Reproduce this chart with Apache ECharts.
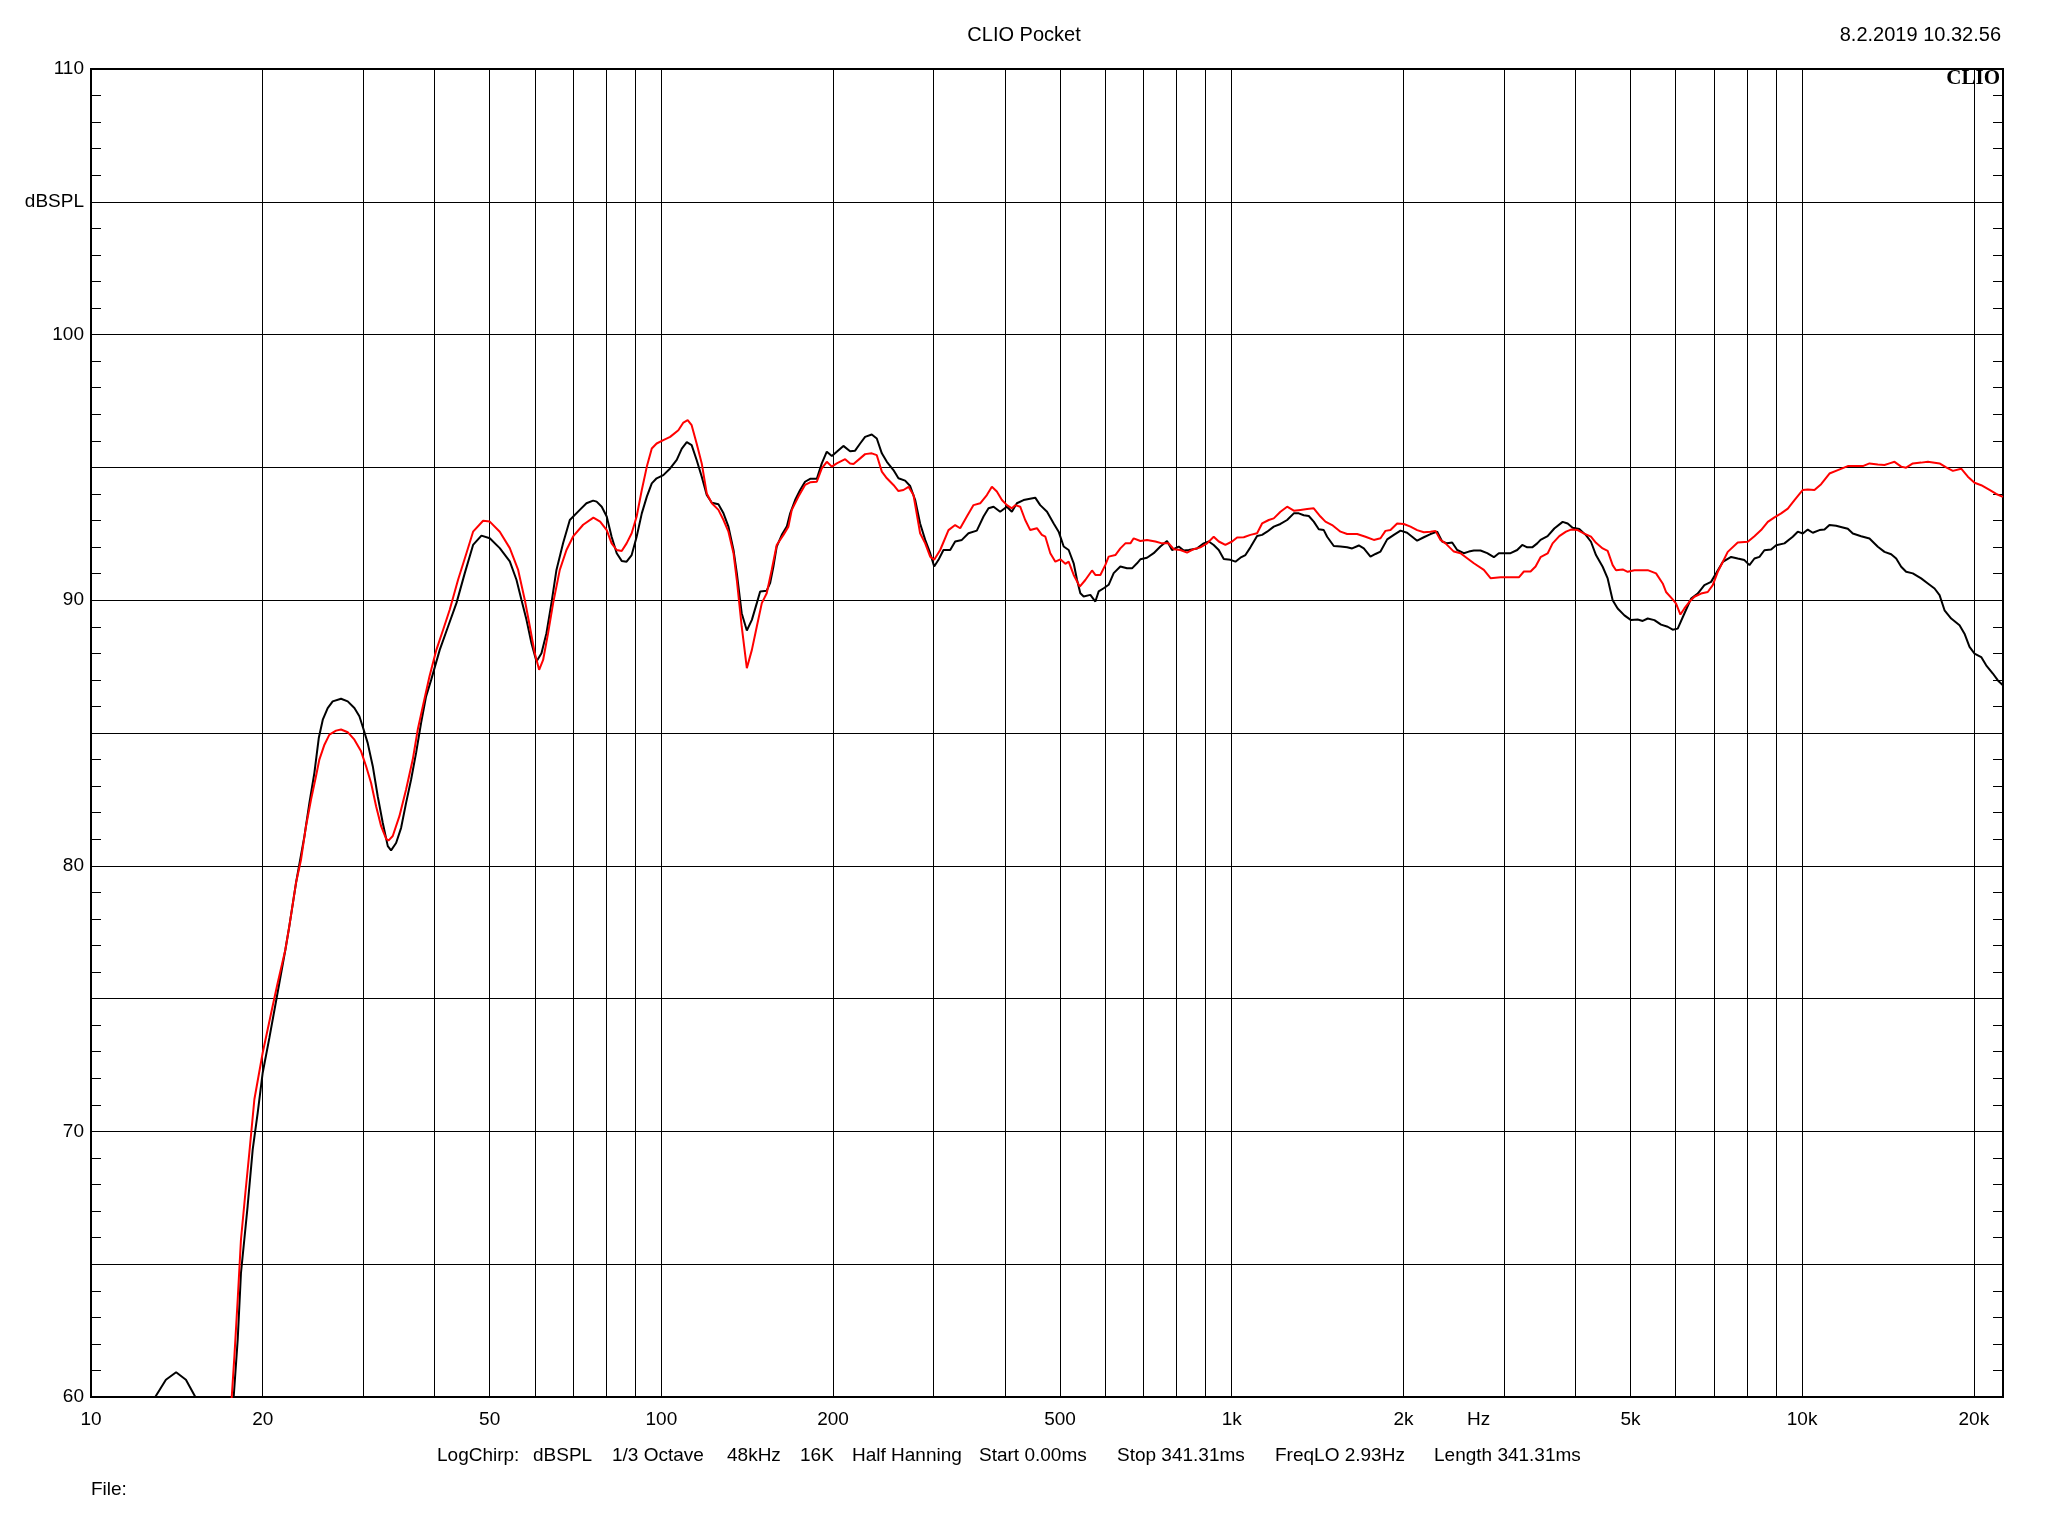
<!DOCTYPE html>
<html>
<head>
<meta charset="utf-8">
<script src="https://cdn.jsdelivr.net/npm/echarts@6/dist/echarts.min.js"></script>
<style>
html,body{margin:0;padding:0;background:#fff;}
#chart{width:2048px;height:1536px;}
</style>
</head>
<body>
<div id="chart"></div>
<script>
// ---- data (frequency in Hz, level in dBSPL) ----
const blackCurve = [
[12.5,58.8],[12.96,60.0],[13.53,60.65],[14.1,60.93],[14.67,60.65],[15.24,60.0],[15.8,58.3],[17.4,57.5],
[17.79,60],[18.08,62.16],[18.32,64.67],[18.57,65.93],[18.82,67.19],[19.21,69.32],[19.6,70.7],[20,72.21],[20.55,73.53],[21.11,74.91],
[21.92,76.85],[22.27,77.73],[22.88,79.36],[23.67,81.12],[24.15,82.37],[24.64,83.5],[25.08,84.81],[25.49,85.5],[26.0,85.94],[26.53,86.19],
[27.44,86.29],[28.19,86.19],[28.96,85.94],[29.55,85.63],[30,85.19],[30.56,84.62],[31.19,83.75],[31.82,82.62],[32.47,81.62],[33.14,80.74],
[33.58,80.58],[34.27,80.86],[34.97,81.43],[35.68,82.37],[36.41,83.25],[37.15,84.25],[37.91,85.38],[38.68,86.38],[39.48,87.0],[40.87,88.13],
[42.27,89.01],[43.72,89.89],[45.22,91.02],[46.76,92.08],[48.36,92.43],[50.02,92.33],[52.08,91.96],[54.23,91.46],[55.71,90.77],[56.85,90.01],
[58.01,89.26],[59.19,88.38],[60.4,87.69],[61.63,88.0],[62.88,88.76],[64.16,89.89],[65.47,91.14],[67.26,92.15],[69.1,93.02],[71.94,93.4],
[73.9,93.65],[75.92,93.75],[77.0,93.71],[78.6,93.52],[80.2,93.15],[81.8,92.39],[83.5,91.77],[85.2,91.48],[86.9,91.45],[88.7,91.7],
[90.5,92.39],[92.4,93.27],[94.3,93.9],[96.2,94.4],[98.1,94.59],[100.8,94.71],[103.6,94.96],[106.4,95.28],[108.6,95.71],[110.8,95.95],
[113.0,95.84],[115.3,95.28],[117.7,94.65],[120.1,93.96],[122.6,93.67],[125.9,93.61],[128.5,93.27],[131.1,92.77],[133.8,91.89],[135.6,91.02],
[138.3,89.51],[141.2,88.86],[144.1,89.26],[147.0,89.89],[149.0,90.33],[153.0,90.36],[155.1,90.64],[157.2,91.27],[159.3,92.02],[162.6,92.46],
[165.9,92.77],[168.2,93.27],[171.6,93.77],[175.1,94.15],[178.6,94.46],[182.3,94.57],[187.3,94.57],[191.1,95.15],[195.0,95.59],[199.0,95.43],
[203.0,95.59],[208.5,95.81],[214.2,95.61],[218.6,95.63],[223.1,95.9],[227.6,96.15],[233.8,96.24],[238.6,96.09],[243.5,95.53],[248.5,95.21],
[255.2,94.9],[260.4,94.59],[267.5,94.5],[273.0,94.3],[278.6,93.77],[284.2,92.89],[290.1,92.27],[296.0,91.77],[300.8,91.27],[306.1,91.52],
[312.3,91.89],[320.9,91.89],[327.4,92.21],[336.4,92.27],[345.5,92.52],[357.3,92.62],[367.1,93.15],[374.6,93.46],[382.3,93.52],[392.6,93.33],
[403.4,93.52],[411.6,93.33],[420.0,93.65],[431.5,93.77],[452.3,93.86],[461.5,93.58],[474.4,93.33],[487.3,92.89],[497.2,92.58],[507.4,92.02],
[517.7,91.89],[528.3,91.39],[535.5,90.76],[542.7,90.26],[550,90.14],[565.1,90.2],[576.6,89.95],[584.4,90.33],[596.3,90.45],[608.4,90.58],
[620.9,91.02],[637.8,91.27],[655.2,91.2],[668.6,91.2],[682.2,91.39],[691.5,91.54],[710.3,91.6],[729.7,91.77],[749.6,92.02],[770.1,92.23],
[785.8,91.89],[807.3,92.02],[823.8,91.87],[840.7,91.89],[869.4,91.95],[893.1,92.14],[911.4,92.21],[929.8,92.08],[948.9,91.89],[968.3,91.55],
[994.7,91.52],[1014.9,91.45],[1035.6,91.6],[1056.8,91.7],[1078.2,91.99],[1107.7,92.42],[1130.3,92.46],[1153.5,92.58],[1184.9,92.77],[1217.2,92.87],
[1250.5,93.02],[1284.6,93.27],[1310.7,93.27],[1337.5,93.2],[1364.9,93.17],[1392.5,92.96],[1421,92.67],[1450,92.64],[1469.7,92.39],[1509.7,92.04],
[1551.1,92.02],[1593.4,91.99],[1625.9,91.95],[1670.4,92.06],[1704.2,91.95],[1750.7,91.64],[1786.5,91.74],[1823,91.83],[1872.8,92.29],[1924,92.46],
[1976.5,92.62],[2029.7,92.54],[2071.4,92.39],[2113.8,92.24],[2171.5,92.37],[2230.8,92.49],[2291.8,92.58],[2338,92.21],[2385.9,92.14],[2434.7,92.17],
[2484.5,91.89],[2551.8,91.77],[2604,91.83],[2657.4,91.87],[2729.8,91.87],[2804.7,91.77],[2881.2,91.62],[2939.7,91.77],[2999.8,91.77],[3081.9,91.77],
[3165.8,91.89],[3230.6,92.08],[3296.1,91.99],[3363.6,91.99],[3432.3,92.14],[3478.5,92.27],[3579,92.41],[3677,92.7],[3803,92.95],[3881,92.89],
[3959,92.73],[4067,92.68],[4178,92.45],[4264,92.2],[4351,91.7],[4470,91.26],[4561,90.82],[4654,90.0],[4749,89.69],[4880,89.43],
[5012,89.25],[5149,89.27],[5254,89.22],[5362,89.31],[5508,89.25],[5658,89.08],[5812,89.0],[5930,88.89],[6052,88.93],[6217,89.5],
[6387,90.06],[6561,90.25],[6740,90.57],[6924,90.69],[7066,91.01],[7258,91.44],[7508,91.63],[7711,91.57],[7922,91.51],[8084,91.32],
[8249,91.57],[8418,91.63],[8587,91.88],[8823,91.91],[9004,92.07],[9311,92.14],[9629,92.39],[9826,92.58],[10028,92.51],[10231,92.66],
[10440,92.54],[10725,92.64],[10945,92.66],[11166,92.83],[11471,92.8],[11784,92.74],[12025,92.69],[12271,92.51],[12690,92.41],[13125,92.32],
[13575,92.01],[13945,91.82],[14325,91.73],[14619,91.57],[14917,91.26],[15219,91.07],[15634,91.01],[16169,90.82],[16615,90.63],[17068,90.44],
[17417,90.19],[17770,89.62],[18255,89.31],[18880,89.06],[19262,88.74],[19656,88.24],[20058,87.99],[20606,87.86],[21023,87.55],[21598,87.24],
[22040,86.98],[22491,86.8]
];
const redCurve = [
[17.2,57.5],[17.65,60],[17.84,61.53],[18.08,63.67],[18.32,65.93],[18.65,67.69],[18.95,69.2],[19.34,71.21],[20,72.96],[20.82,74.72],[21.25,75.6],
[21.92,76.85],[22.27,77.73],[22.88,79.36],[23.35,80.24],[23.82,81.49],[24.31,82.49],[24.8,83.37],[25.14,84.0],[25.66,84.56],[26.18,84.94],
[26.89,85.09],[27.44,85.13],[28.19,85.03],[28.96,84.75],[29.75,84.31],[30.36,83.75],[30.98,83.12],[31.61,82.24],[32.26,81.49],[32.91,81.02],
[33.23,80.95],[33.81,81.12],[34.73,81.87],[35.68,82.87],[36.65,84.0],[37.4,85.13],[38.17,86.0],[39.21,87.13],[40.32,88.13],[41.42,88.88],
[42.55,89.64],[44.01,90.77],[45.52,91.77],[46.76,92.58],[48.69,92.99],[50.02,92.96],[52.08,92.58],[54.23,91.96],[56.09,91.14],[57.62,90.01],
[58.8,89.01],[59.99,88.0],[61.05,87.38],[62.04,87.75],[63.3,88.76],[64.6,89.89],[66.36,91.14],[68.17,91.89],[70.03,92.4],[72.92,92.84],
[76.0,93.11],[78.1,92.96],[80.2,92.64],[81.8,92.14],[83.5,91.89],[85.2,91.85],[86.9,92.14],[88.7,92.52],[90.5,93.15],[92.4,94.15],
[94.3,95.03],[96.2,95.71],[98.1,95.9],[100.8,96.03],[103.6,96.15],[107.1,96.4],[109.3,96.69],[111.2,96.78],[113.0,96.59],[115.3,95.9],
[117.7,95.15],[120.1,94.02],[122.6,93.65],[125.9,93.4],[128.5,93.02],[131.1,92.58],[133.8,91.77],[135.6,90.76],[138.3,89.01],[141.2,87.44],
[144.1,88.13],[147.0,89.01],[150.0,89.89],[153.0,90.26],[156.1,91.14],[159.3,92.08],[163.7,92.46],[167.0,92.77],[169.3,93.4],[173.9,93.9],
[178.6,94.34],[182.3,94.44],[187.3,94.46],[191.1,94.96],[195.0,95.21],[199.0,95.03],[203.0,95.15],[210.0,95.31],[214.2,95.15],[217.2,95.13],
[223.1,95.34],[227.6,95.5],[233.8,95.53],[238.6,95.46],[243.5,94.84],[248.5,94.59],[255.2,94.34],[260.4,94.11],[265.7,94.15],[271.2,94.27],
[276.7,93.96],[284.2,92.52],[290.1,92.14],[296.0,91.64],[300.8,91.52],[308.2,91.89],[318.7,92.64],[327.4,92.83],[334.1,92.71],[343.2,93.15],
[352.6,93.58],[362.2,93.65],[372.1,93.96],[379.7,94.27],[387.4,94.09],[395.4,93.77],[403.4,93.58],[411.6,93.46],[417.3,93.58],[425.7,93.52],
[434.4,93.02],[443.3,92.64],[455.4,92.71],[464.6,92.46],[471.2,92.39],[480.7,91.77],[490.6,91.45],[500.6,91.54],[510.8,91.37],[517.7,91.45],
[528.3,90.95],[541.4,90.51],[553.7,90.76],[568.9,91.12],[576.6,90.95],[588.4,90.95],[600.4,91.33],[608.4,91.64],[625.1,91.7],[637.8,91.95],
[650.8,92.14],[664.2,92.14],[673.1,92.33],[691.5,92.23],[710.3,92.27],[734.6,92.21],[754.8,92.14],[775.2,92.14],[791.2,91.92],[812.8,91.89],
[834.9,91.79],[857.5,91.92],[881,91.99],[905.2,92.14],[929.8,92.39],[948.9,92.21],[974.7,92.08],[1001.4,92.21],[1021.9,92.36],[1049.6,92.37],
[1078.2,92.46],[1107.7,92.52],[1130.3,92.89],[1161.2,93.02],[1184.9,93.08],[1217.2,93.33],[1250.5,93.52],[1284.6,93.37],[1319.6,93.4],[1355.7,93.43],
[1392.5,93.46],[1430.5,93.15],[1459.7,92.96],[1499.7,92.83],[1551.1,92.58],[1593.4,92.49],[1658.9,92.49],[1715.9,92.39],[1774.5,92.27],[1823,92.33],
[1859.9,92.61],[1898,92.64],[1949.8,92.89],[2002.8,92.87],[2057.6,92.77],[2113.8,92.64],[2171.5,92.56],[2230.8,92.58],[2276,92.61],[2322.7,92.27],
[2370,92.14],[2451.2,91.83],[2518,91.77],[2586.6,91.58],[2657.4,91.39],[2766.9,91.14],[2842.4,90.83],[2960,90.86],[3081.9,90.86],[3187.2,90.86],
[3252.2,91.08],[3341.2,91.08],[3409.4,91.27],[3478.5,91.62],[3579,91.76],[3652,92.14],[3752,92.41],[3855,92.58],[3933,92.66],[4040,92.64],
[4150,92.51],[4264,92.39],[4351,92.16],[4470,91.95],[4561,91.86],[4654,91.32],[4717,91.13],[4846,91.16],[4945,91.07],[5081,91.13],
[5220,91.13],[5362,91.13],[5545,91.01],[5696,90.63],[5773,90.31],[5930,90.03],[6012,89.87],[6118,89.46],[6217,89.69],[6344,89.94],
[6473,90.13],[6650,90.25],[6832,90.31],[6971,90.57],[7114,91.07],[7258,91.44],[7406,91.82],[7711,92.17],[8030,92.2],[8249,92.41],
[8474,92.64],[8706,92.95],[8943,93.12],[9188,93.27],[9439,93.45],[9696,93.77],[10028,94.15],[10231,94.17],[10510,94.15],[10797,94.37],
[11166,94.77],[11551,94.9],[12025,95.05],[12353,95.05],[12776,95.05],[13125,95.15],[13575,95.11],[13945,95.09],[14230,95.15],[14521,95.21],
[14917,95.03],[15219,94.99],[15634,95.15],[16169,95.18],[16615,95.21],[17417,95.15],[17889,95.0],[18378,94.87],[19006,94.95],[19525,94.65],
[20058,94.42],[20606,94.33],[21310,94.15],[21894,94.0],[22491,93.89]
];
const gridFreqs = [20,30,40,50,60,70,80,90,100,200,300,400,500,600,700,800,900,1000,2000,3000,4000,5000,6000,7000,8000,9000,10000,20000];
const freqTickLabels = [[10,'10'],[20,'20'],[50,'50'],[100,'100'],[200,'200'],[500,'500'],[1000,'1k'],[2000,'2k'],[2708,'Hz'],[5000,'5k'],[10000,'10k'],[20000,'20k']];
const xRange = [10, 22500];
const yRange = [60, 110];
const yStep = 5;
const yLabelValues = [60,70,80,90,100,110];
const yUnitLabel = [105, 'dBSPL'];
const titleText = 'CLIO Pocket';
const dateText = '8.2.2019 10.32.56';
const brandText = 'CLIO';
const infoItems = [['LogChirp:',437],['dBSPL',533],['1/3 Octave',612],['48kHz',727],['16K',800],['Half Hanning',852],['Start 0.00ms',979],['Stop 341.31ms',1117],['FreqLO 2.93Hz',1275],['Length 341.31ms',1434]];
const fileText = 'File:';

// ---- chart ----
const FONT = '"Liberation Sans", Arial, sans-serif';
const chart = echarts.init(document.getElementById('chart'), null, {renderer:'canvas'});

const labelMap = {};
freqTickLabels.forEach(([f, t]) => { labelMap[f] = t; });
const allFreqs = Array.from(new Set(gridFreqs.concat(freqTickLabels.map(d => d[0])))).sort((a, b) => a - b);
const markData = allFreqs.map(f => {
  const item = {xAxis: f};
  if (labelMap[f] !== undefined) {
    item.label = {show: true, formatter: labelMap[f]};
  } else {
    item.label = {show: false};
  }
  if (gridFreqs.indexOf(f) < 0) {
    item.lineStyle = {color: 'rgba(0,0,0,0)', width: 1};
  }
  return item;
});

const yAxisCommon = {
  type: 'value', min: yRange[0], max: yRange[1], interval: yStep,
  axisLine: {show: false},
  axisTick: {show: true, inside: true, length: 10, lineStyle: {color: '#000', width: 1}},
  minorTick: {show: true, splitNumber: 5, length: 10, lineStyle: {color: '#000', width: 1}},
};

const graphics = [
  {type:'text', x: 1024, y: 35, style:{text: titleText, fill:'#000', font: '20px ' + FONT, align:'center', verticalAlign:'middle'}},
  {type:'text', x: 2001, y: 35, style:{text: dateText, fill:'#000', font: '20px ' + FONT, align:'right', verticalAlign:'middle'}},
  {type:'text', x: 2000, y: 79, z: 10, style:{text: brandText, fill:'#000', font: 'bold 21px "Liberation Serif", "Times New Roman", serif', align:'right', verticalAlign:'middle'}},
  {type:'text', x: 91, y: 1490, style:{text: fileText, fill:'#000', font: '19px ' + FONT, align:'left', verticalAlign:'middle'}}
].concat(infoItems.map(([t, x]) => ({
  type:'text', x: x, y: 1456, style:{text: t, fill:'#000', font: '19px ' + FONT, align:'left', verticalAlign:'middle'}
})));

chart.setOption({
  animation: false,
  backgroundColor: '#fff',
  grid: {left: 91, right: 45, top: 69, bottom: 139, show: true, borderColor: '#000', borderWidth: 2, backgroundColor: 'transparent'},
  xAxis: {
    type: 'log', logBase: 10, min: xRange[0], max: xRange[1],
    axisLine: {show: false}, axisTick: {show: false}, axisLabel: {show: false}, splitLine: {show: false}
  },
  yAxis: [
    Object.assign({}, yAxisCommon, {
      position: 'left',
      splitLine: {show: true, lineStyle: {color: '#000', width: 1}},
      axisLabel: {
        show: true, margin: 7, color: '#000', fontSize: 19, fontFamily: FONT,
        formatter: v => (yLabelValues.indexOf(v) >= 0 ? String(v) : (v === yUnitLabel[0] ? yUnitLabel[1] : ''))
      }
    }),
    Object.assign({}, yAxisCommon, {
      position: 'right',
      splitLine: {show: false},
      axisLabel: {show: false}
    })
  ],
  graphic: graphics,
  series: [
    {
      type: 'line', data: [], z: 1,
      markLine: {
        silent: true, symbol: ['none','none'], z: 1, animation: false,
        lineStyle: {color: '#000', width: 1, type: 'solid'},
        label: {show: true, position: 'start', distance: 13, color: '#000', fontSize: 19, fontFamily: FONT},
        emphasis: {disabled: true},
        data: markData
      }
    },
    {
      name: 'black', type: 'line', data: blackCurve, showSymbol: false, symbol: 'none', z: 3,
      lineStyle: {color: '#000', width: 2}, clip: true, smooth: false
    },
    {
      name: 'red', type: 'line', data: redCurve, showSymbol: false, symbol: 'none', z: 4,
      lineStyle: {color: '#ff0000', width: 2}, clip: true, smooth: false
    }
  ]
});
</script>
</body>
</html>
